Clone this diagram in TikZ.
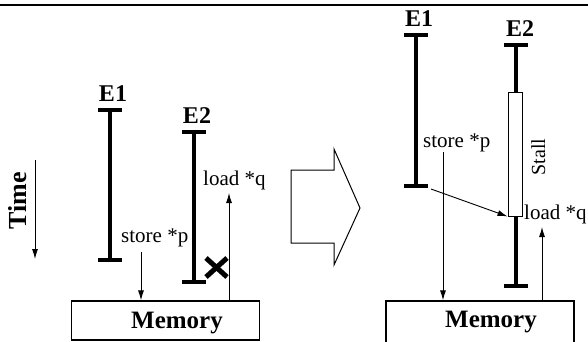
\documentclass[tikz,border=0pt]{standalone}
\usepackage{fontspec}
\setmainfont{Liberation Serif}
\usetikzlibrary{arrows.meta}
\begin{document}
\begin{tikzpicture}[x=1pt,y=-1pt,
  barline/.style={line width=4pt},
  capline/.style={line width=4pt},
  arr/.style={line width=0.9pt,-{Latex[length=10pt,width=6pt]}},
  lbl/.style={inner sep=0pt,anchor=base,font=\fontsize{24}{26}\selectfont\bfseries},
  txt/.style={inner sep=0pt,anchor=base west,font=\fontsize{21}{23}\selectfont},
  membox/.style={draw,line width=1.3pt,inner sep=0pt,minimum width=188pt},
  memtxt/.style={inner sep=0pt,anchor=base west,font=\fontsize{25}{27}\selectfont\bfseries}]
\clip (0,0) rectangle (588,341);
\fill[white] (0,0) rectangle (588,341);
% top rule
\coordinate (rl) at (0,5);
\coordinate (rr) at (588,5);
\draw[line width=2.8pt] (rl) -- (rr);

% ---------- left panel ----------
\node[lbl] (le1) at (113,101) {E1};
\node[lbl] (le2) at (197,123) {E2};
\coordinate (le1t) at (110,110);
\coordinate (le1b) at (110,260);
\coordinate (le2t) at (194,132);
\coordinate (le2b) at (194,282);
\draw[barline] (le1t) -- (le1b);
\draw[capline] ([xshift=-12pt]le1t) -- ([xshift=12pt]le1t);
\draw[capline] ([xshift=-12pt]le1b) -- ([xshift=12pt]le1b);
\draw[barline] (le2t) -- (le2b);
\draw[capline] ([xshift=-12pt]le2t) -- ([xshift=12pt]le2t);
\draw[capline] ([xshift=-12pt]le2b) -- ([xshift=12pt]le2b);

\node[txt] (lload) at (203,185) {load *q};
\node[txt] (lstore) at (121,242) {store *p};

\node[membox,minimum height=39pt] (mem1) at (165.5,320.5) {};
\node[memtxt] (mem1t) at (131,328) {Memory};

\coordinate (lsp) at (141,252);
\draw[arr] (lsp) -- (lsp |- mem1.north);
\coordinate (llq) at (229,193);
\draw[arr] (llq |- mem1.north) -- (llq);

% X mark
\coordinate (xa) at (206,258);
\coordinate (xb) at (227,277);
\coordinate (xc) at (206,277);
\coordinate (xd) at (227,258);
\draw[line width=5pt] (xa) -- (xb);
\draw[line width=5pt] (xc) -- (xd);

% Time
\node[inner sep=0pt,anchor=base,rotate=90,font=\fontsize{26}{28}\selectfont\bfseries] (time) at (26,201) {Time};
\coordinate (tt) at (35,160);
\coordinate (tb) at (35,259);
\draw[arr] (tt) -- (tb);

% ---------- big arrow ----------
\draw[line width=1pt,line join=miter] (291,170) -- (334,170) -- (334,149) -- (360,208) -- (334,265) -- (334,243) -- (291,243) -- cycle;

% ---------- right panel ----------
\node[lbl] (re1) at (419,26) {E1};
\node[lbl] (re2) at (520,36) {E2};
\coordinate (re1t) at (416,35);
\coordinate (re1b) at (416,186);
\coordinate (re2t) at (516,45);
\coordinate (re2b) at (516,286);
\draw[barline] (re1t) -- (re1b);
\draw[capline] ([xshift=-12pt]re1t) -- ([xshift=12pt]re1t);
\draw[capline] ([xshift=-12pt]re1b) -- ([xshift=12pt]re1b);
\draw[barline] (re2t) -- (re2b);
\draw[capline] ([xshift=-12pt]re2t) -- ([xshift=12pt]re2t);
\draw[capline] ([xshift=-12pt]re2b) -- ([xshift=12pt]re2b);
\node[draw,fill=white,line width=0.9pt,inner sep=0pt,minimum width=14pt,minimum height=124pt] (stall) at (515,154) {};
\node[inner sep=0pt,anchor=base,rotate=90,font=\fontsize{20}{22}\selectfont] (stallt) at (545,157) {Stall};

\node[txt] (rstore) at (423,147) {store *p};
\node[txt] (rload) at (524,219) {load *q};

\node[membox,minimum height=60pt] (mem2) at (480,331) {};
\node[memtxt] (mem2t) at (445,327) {Memory};

\coordinate (rsp) at (443,152);
\draw[arr] (rsp) -- (rsp |- mem2.north);
\coordinate (rlq) at (542,227);
\draw[arr] (rlq |- mem2.north) -- (rlq);
\coordinate (dstart) at (431,189);
\draw[arr] (dstart) -- (stall.south west);
\end{tikzpicture}
\end{document}
